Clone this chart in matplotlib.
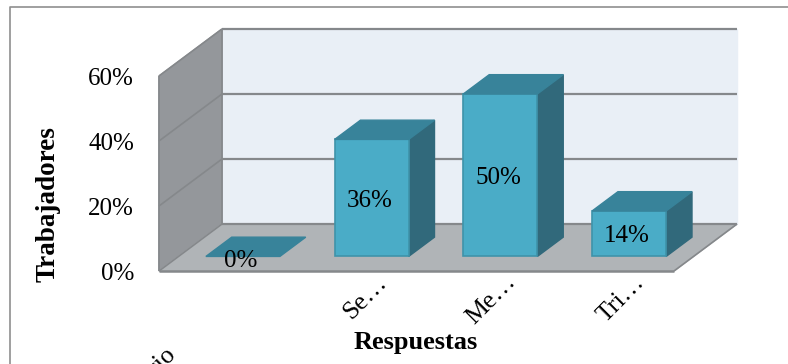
import matplotlib
matplotlib.use('Agg')
import matplotlib.pyplot as plt
from matplotlib.patches import Polygon

plt.rcParams['font.family'] = ['Liberation Serif', 'DejaVu Serif']

categories = ['Diario', 'Se\u2026', 'Me\u2026', 'Tri\u2026']
values = [0, 36, 50, 14]
value_labels = ['0%', '36%', '50%', '14%']
ticks = [0, 20, 40, 60]
tick_labels = ['0%', '20%', '40%', '60%']

WALL = '#94979b'
BACK = '#e9eff6'
FLOOR = '#b0b4b7'
GRID = '#85888b'
FRONT = '#4aacc7'
TOP = '#38839a'
SIDE = '#31697b'

# oblique projection: one unit of depth moves a point right and up
DEPTH_X = 63 / 128.75
DEPTH_Y = 47 / 3.25
BAR_W = 0.575
BAR_D0 = 0.31
BAR_D1 = 0.72

W, H = 788, 364
fig = plt.figure(figsize=(W / 100, H / 100), dpi=100)
ax = fig.add_axes([159 / W, (H - 271) / H, 515 / W, 195 / H])
ax.set_xlim(-0.5, 3.5)
ax.set_ylim(0, 60)
ax.axis('off')


def proj(x, y, d):
    return (x + d * DEPTH_X, y + d * DEPTH_Y)


def face(pts, color, edge=None, z=1, lw=1.0):
    ax.add_patch(Polygon([proj(*p) for p in pts], closed=True, facecolor=color,
                         edgecolor=edge if edge else color, linewidth=lw,
                         clip_on=False, zorder=z))


def seg(p, q, color=GRID, lw=1.6, z=2):
    a, b = proj(*p), proj(*q)
    ax.plot([a[0], b[0]], [a[1], b[1]], color=color, lw=lw, clip_on=False,
            zorder=z, solid_capstyle='butt')


x0, x1 = -0.5, 3.5
top = ticks[-1]

# walls and floor
face([(x0, 0, 1), (x1, 0, 1), (x1, top, 1), (x0, top, 1)], BACK)
face([(x0, 0, 0), (x0, 0, 1), (x0, top, 1), (x0, top, 0)], WALL)
face([(x0, 0, 0), (x1, 0, 0), (x1, 0, 1), (x0, 0, 1)], FLOOR)

for t in ticks:
    seg((x0, t, 1), (x1, t, 1))
    seg((x0, t, 0), (x0, t, 1), lw=1.2)
seg((x0, 0, 0), (x1, 0, 0), lw=1.8)
seg((x1, 0, 0), (x1, 0, 1), lw=1.2)
seg((x0, 0, 0), (x0, top, 0), lw=1.2)
seg((x0, top, 1), (x0, 0, 1), lw=1.2)

# bars
for i, (val, lab) in enumerate(zip(values, value_labels)):
    l, r = i - BAR_W / 2, i + BAR_W / 2
    if val > 0:
        face([(r, 0, BAR_D0), (r, 0, BAR_D1), (r, val, BAR_D1), (r, val, BAR_D0)],
             SIDE, z=3)
        face([(l, 0, BAR_D0), (r, 0, BAR_D0), (r, val, BAR_D0), (l, val, BAR_D0)],
             FRONT, edge='#3f93aa', z=4, lw=1.2)
    face([(l, val, BAR_D0), (r, val, BAR_D0), (r, val, BAR_D1), (l, val, BAR_D1)],
         TOP, z=5)
    cx, cy = proj(i, val / 2, BAR_D0)
    ax.annotate(lab, (cx, cy), xytext=(-1.5, -2 if val else -3), textcoords='offset points',
                ha='center', va='center', fontsize=18, color='black', zorder=6,
                annotation_clip=False)

# axis labels
for t, lab in zip(ticks, tick_labels):
    ax.annotate(lab, (x0, t), xytext=(-18, -2.5), textcoords='offset points',
                ha='right', va='center', fontsize=18, annotation_clip=False)

# the first label sits lower and runs off the bottom of the figure
for i, lab in enumerate(categories):
    offset = (-42, -52) if i == 0 else (17, 0)
    ax.annotate(lab, (i, 0), xytext=offset, textcoords='offset points',
                ha='right', va='top', rotation=45, rotation_mode='anchor',
                fontsize=18.5, annotation_clip=False)

fig.text(48 / W, 1 - 204 / H, 'Trabajadores', rotation=90, ha='center', va='center',
         fontsize=19.5, fontweight='bold')
fig.text(416 / W, 1 - 343 / H, 'Respuestas', ha='center', va='center',
         fontsize=19, fontweight='bold')

# outer frame, only the top and left edges fall inside the figure
fig.add_artist(plt.Line2D([9.5 / W, 9.5 / W, 1], [0, 1 - 6.5 / H, 1 - 6.5 / H],
                          color='#8f8f8f', lw=1.2))

fig.savefig('out.png', dpi=100)
